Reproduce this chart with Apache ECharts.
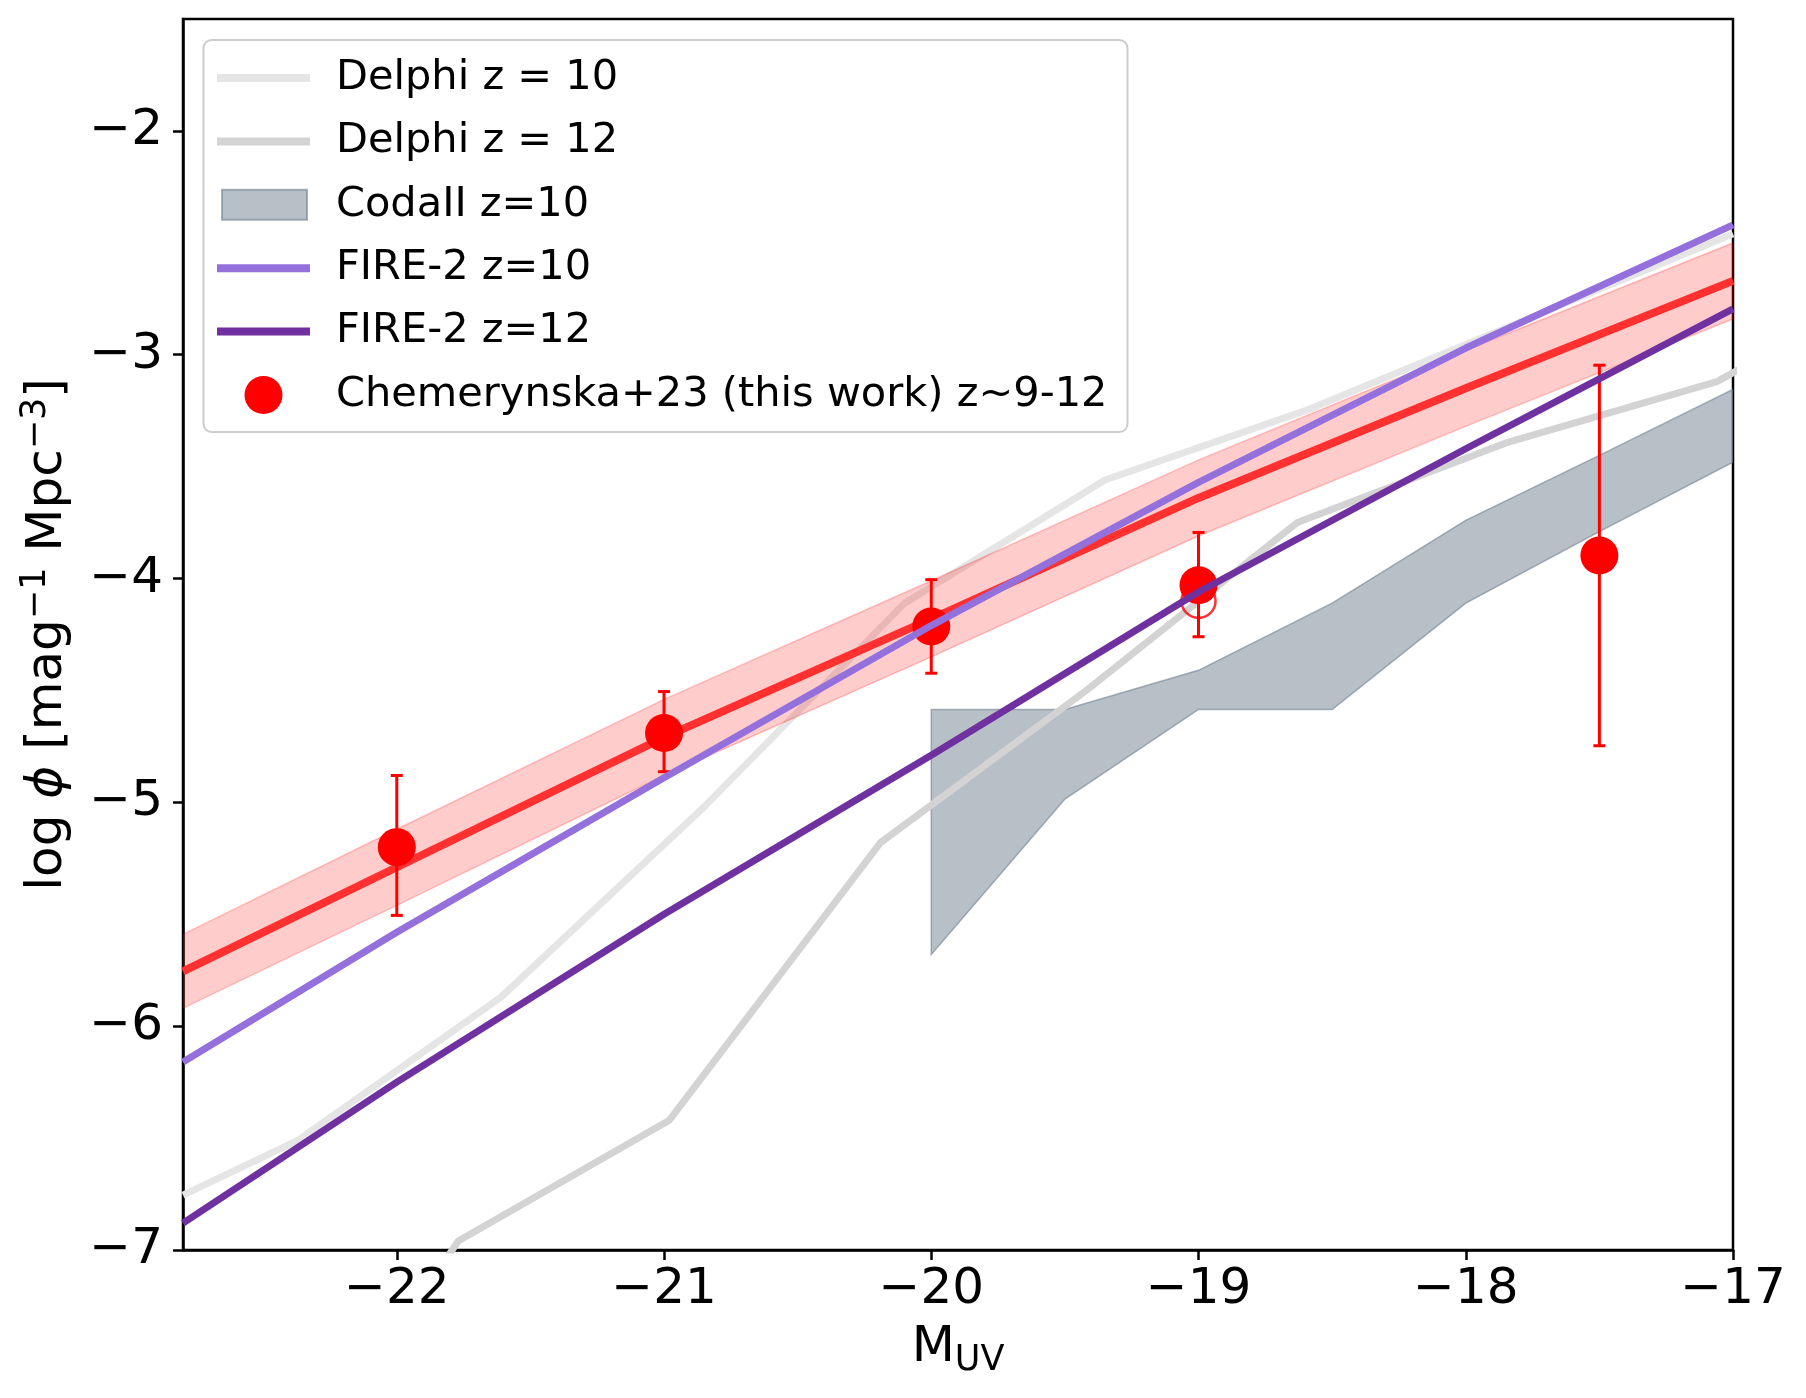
<!DOCTYPE html>
<html>
<head>
<meta charset="utf-8">
<script src="https://cdn.jsdelivr.net/npm/echarts@6/dist/echarts.min.js"></script>
<style>
html,body{margin:0;padding:0;background:#fff;}
#c{width:1806px;height:1398px;}
</style>
</head>
<body>
<div id="c"></div>
<script>
// ---------- data ----------
const xTicks = [-22, -21, -20, -19, -18, -17];
const yTicks = [-7, -6, -5, -4, -3, -2];

const delphi10X = [-22.8, -22.37, -21.61, -20.85, -20.10, -19.35, -18.60, -17.85, -17.10, -17.0];
const delphi10Y = [-6.755, -6.51, -5.87, -5.02, -4.11, -3.56, -3.25, -2.88, -2.51, -2.46];

const delphi12X = [-22.3, -21.77, -20.98, -20.19, -19.42, -18.63, -17.84, -17.06, -16.8];
const delphi12Y = [-7.9, -6.96, -6.42, -5.18, -4.50, -3.75, -3.39, -3.12, -2.95];

const codaX     = [-20.0, -19.5, -19.0, -18.5, -18.0, -17.5, -17.0];
const codaUpper = [-4.585, -4.585, -4.41, -4.11, -3.74, -3.45, -3.155];
const codaLower = [-5.68, -4.985, -4.585, -4.585, -4.11, -3.79, -3.48];

const fitX     = [-22.8, -22.0, -21.0, -20.0, -19.0, -18.0, -17.0];
const fitY     = [-5.755, -5.29, -4.71, -4.18, -3.64, -3.15, -2.67];
const fitUpper = [-5.59, -5.12, -4.54, -4.01, -3.47, -2.98, -2.50];
const fitLower = [-5.92, -5.46, -4.88, -4.35, -3.81, -3.32, -2.84];

const fireX   = [-22.8, -22.0, -21.0, -20.0, -19.0, -18.0, -17.0];
const fire10Y = [-6.16, -5.58, -4.89, -4.21, -3.57, -2.97, -2.42];
const fire12Y = [-6.88, -6.25, -5.50, -4.79, -4.06, -3.42, -2.795];

const obsX    = [-22.0, -21.0, -20.0, -19.0, -17.5];
const obsY    = [-5.20, -4.69, -4.214, -4.03, -3.897];
const obsHigh = [-4.88, -4.505, -4.005, -3.794, -3.047];
const obsLow  = [-5.505, -4.863, -4.423, -4.26, -4.747];

const openX = [-19.0];
const openY = [-4.10];

// ---------- helpers ----------
const F = 'DejaVu Sans';
const zip = (xs, ys) => xs.map((x, i) => [x, ys[i]]);
const minus = v => String(v).replace('-', '\u2212');

function bandSeries(name, xs, up, lo, fill, stroke, lw, z) {
  return {
    type: 'custom', name: name, z: z, clip: true,
    data: [[xs[0], up[0]]],
    encode: { x: 0, y: 1 },
    renderItem: function (params, api) {
      const pts = [];
      for (let i = 0; i < xs.length; i++) pts.push(api.coord([xs[i], up[i]]));
      for (let i = xs.length - 1; i >= 0; i--) pts.push(api.coord([xs[i], lo[i]]));
      return { type: 'polygon', shape: { points: pts }, style: { fill: fill, stroke: stroke, lineWidth: lw } };
    }
  };
}

function lineSeries(name, xs, ys, color, width, z) {
  return {
    type: 'line', name: name, z: z, data: zip(xs, ys),
    showSymbol: false, symbol: 'none', smooth: false, clip: true,
    lineStyle: { color: color, width: width, cap: 'butt', join: 'round' },
    itemStyle: { color: color },
    emphasis: { disabled: true }
  };
}

const LINE_ICON  = 'path://M0,0M114,40M0,16H93V24H0Z';
const PATCH_ICON = 'path://M0,0M114,40M5,5H90V35H5Z';
const DOT_ICON   = 'path://M0,0M114,40M27.5,20A19,19,0,1,0,65.5,20A19,19,0,1,0,27.5,20Z';

const chart = echarts.init(document.getElementById('c'), null, { renderer: 'canvas' });

const option = {
  backgroundColor: '#ffffff',
  animation: false,
  grid: {
    left: 183, top: 19, right: 73, bottom: 148,
    show: true, borderColor: '#000', borderWidth: 2.5, backgroundColor: 'transparent'
  },
  xAxis: {
    type: 'value', min: -22.8, max: -17,
    axisLine: { show: true, onZero: false, lineStyle: { color: '#000', width: 2.5 } },
    axisTick: { show: true, length: 10, customValues: xTicks, lineStyle: { color: '#000', width: 2.5 } },
    axisLabel: { customValues: xTicks, formatter: minus, fontFamily: F, fontSize: 50, color: '#000', margin: 15 },
    splitLine: { show: false },
    name: '{m|M}{s|UV}',
    nameLocation: 'middle', nameGap: 68,
    nameTextStyle: {
      rich: {
        m: { fontFamily: F, fontSize: 50, lineHeight: 60, color: '#000' },
        s: { fontFamily: F, fontSize: 35, lineHeight: 35, color: '#000', verticalAlign: 'bottom' }
      }
    }
  },
  yAxis: {
    type: 'value', min: -7, max: -1.5,
    axisLine: { show: true, onZero: false, lineStyle: { color: '#000', width: 2.5 } },
    axisTick: { show: true, length: 10, customValues: yTicks, lineStyle: { color: '#000', width: 2.5 } },
    axisLabel: { customValues: yTicks, formatter: minus, fontFamily: F, fontSize: 50, color: '#000', margin: 20 },
    splitLine: { show: false },
    name: '{n|log }{i|\u03d5}{n| [mag}{s|\u22121}{n| Mpc}{s|\u22123}{n|]}',
    nameLocation: 'middle', nameRotate: 90, nameGap: 105,
    nameTextStyle: {
      rich: {
        n: { fontFamily: F, fontSize: 50, lineHeight: 60, color: '#000' },
        i: { fontFamily: F, fontSize: 50, lineHeight: 60, color: '#000', fontStyle: 'italic' },
        s: { fontFamily: F, fontSize: 35, lineHeight: 26, color: '#000', verticalAlign: 'top' }
      }
    }
  },
  legend: {
    orient: 'vertical', left: 203.5, top: 40,
    padding: [17, 20, 16, 12.5], itemGap: 21.4, itemWidth: 114, itemHeight: 40,
    backgroundColor: 'rgba(255,255,255,0.8)', borderColor: '#cccccc', borderWidth: 2, borderRadius: 8,
    selectedMode: false,
    textStyle: { fontFamily: F, fontSize: 41.5, color: '#000', lineHeight: 40 },
    data: [
      { name: 'Delphi z = 10', icon: LINE_ICON, itemStyle: { color: '#e5e5e5', borderWidth: 0, opacity: 1 } },
      { name: 'Delphi z = 12', icon: LINE_ICON, itemStyle: { color: '#d3d3d3', borderWidth: 0, opacity: 1 } },
      { name: 'CodaII z=10', icon: PATCH_ICON, itemStyle: { color: 'rgba(112,128,144,0.5)', borderColor: 'rgba(112,128,144,0.6)', borderWidth: 2, opacity: 1 } },
      { name: 'FIRE-2 z=10', icon: LINE_ICON, itemStyle: { color: '#9370db', borderWidth: 0, opacity: 1 } },
      { name: 'FIRE-2 z=12', icon: LINE_ICON, itemStyle: { color: '#7031a0', borderWidth: 0, opacity: 1 } },
      { name: 'Chemerynska+23 (this work) z~9-12', icon: DOT_ICON, itemStyle: { color: '#ff0000', borderWidth: 0, opacity: 1 } }
    ]
  },
  series: [
    lineSeries('Delphi z = 10', delphi10X, delphi10Y, '#e5e5e5', 7, 1),
    bandSeries('CodaII z=10', codaX, codaUpper, codaLower, 'rgba(112,128,144,0.5)', 'rgba(112,128,144,0.6)', 1.5, 2),
    lineSeries('Delphi z = 12', delphi12X, delphi12Y, '#d3d3d3', 7, 3),
    bandSeries('fit band', fitX, fitUpper, fitLower, 'rgba(255,0,0,0.2)', 'rgba(255,0,0,0.22)', 1.5, 4),
    lineSeries('fit', fitX, fitY, '#ff3030', 8, 5),
    {
      type: 'custom', name: 'errors', z: 6,
      data: obsX.map((x, i) => [x, obsLow[i], obsHigh[i]]),
      encode: { x: 0, y: [1, 2] },
      renderItem: function (params, api) {
        const x = api.value(0);
        const p1 = api.coord([x, api.value(1)]);
        const p2 = api.coord([x, api.value(2)]);
        const st = { stroke: '#ff0000', lineWidth: 3 };
        return {
          type: 'group', children: [
            { type: 'line', shape: { x1: p1[0], y1: p1[1], x2: p2[0], y2: p2[1] }, style: st },
            { type: 'line', shape: { x1: p1[0] - 6, y1: p1[1], x2: p1[0] + 6, y2: p1[1] }, style: st },
            { type: 'line', shape: { x1: p2[0] - 6, y1: p2[1], x2: p2[0] + 6, y2: p2[1] }, style: st }
          ]
        };
      }
    },
    {
      type: 'scatter', name: 'open', z: 6, data: zip(openX, openY),
      symbol: 'circle', symbolSize: 34,
      itemStyle: { color: 'rgba(0,0,0,0)', borderColor: '#ff0000', borderWidth: 2.5 },
      emphasis: { disabled: true }
    },
    {
      type: 'scatter', name: 'Chemerynska+23 (this work) z~9-12', z: 7, data: zip(obsX, obsY),
      symbol: 'circle', symbolSize: 38,
      itemStyle: { color: '#ff0000', opacity: 1 },
      emphasis: { disabled: true }
    },
    lineSeries('FIRE-2 z=10', fireX, fire10Y, '#9370db', 7, 8),
    lineSeries('FIRE-2 z=12', fireX, fire12Y, '#7031a0', 7, 9)
  ]
};

chart.setOption(option);
</script>
</body>
</html>
